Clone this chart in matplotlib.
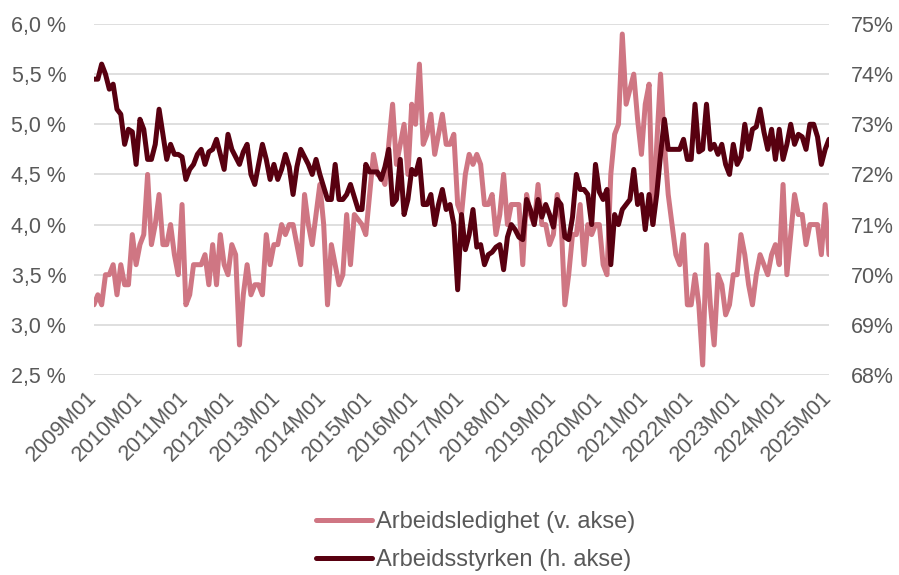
import matplotlib.pyplot as plt
import matplotlib.transforms as mtransforms
from matplotlib.ticker import FuncFormatter, FixedLocator

# monthly series 2009M01 .. 2025M01, one row per year
ledighet = [
    3.2, 3.3, 3.2, 3.5, 3.5, 3.6, 3.3, 3.6, 3.4, 3.4, 3.9, 3.6,
    3.8, 3.9, 4.5, 3.8, 4.0, 4.3, 3.8, 3.8, 4.0, 3.7, 3.5, 4.2,
    3.2, 3.3, 3.6, 3.6, 3.6, 3.7, 3.4, 3.8, 3.4, 3.9, 3.6, 3.5,
    3.8, 3.7, 2.8, 3.3, 3.6, 3.3, 3.4, 3.4, 3.3, 3.9, 3.6, 3.8,
    3.8, 4.0, 3.9, 4.0, 4.0, 3.8, 3.6, 4.3, 4.0, 3.8, 4.1, 4.4,
    4.0, 3.2, 3.8, 3.6, 3.4, 3.5, 4.1, 3.6, 4.1, 4.05, 4.0, 3.9,
    4.3, 4.7, 4.5, 4.5, 4.4, 4.8, 5.2, 4.6, 4.8, 5.0, 4.5, 5.2,
    5.0, 5.6, 4.8, 4.9, 5.1, 4.7, 4.9, 5.1, 4.8, 4.8, 4.9, 4.2,
    4.1, 4.5, 4.7, 4.6, 4.7, 4.6, 4.2, 4.2, 4.3, 3.9, 4.1, 4.5,
    4.0, 4.2, 4.2, 4.2, 3.6, 4.3, 4.1, 4.0, 4.4, 4.0, 4.0, 3.8,
    3.9, 4.3, 4.05, 3.2, 3.5, 3.9, 3.9, 4.2, 3.6, 4.0, 3.9, 4.0,
    4.0, 3.6, 3.5, 4.5, 4.9, 5.0, 5.9, 5.2, 5.35, 5.5, 5.05, 4.7,
    5.2, 5.4, 4.0, 4.8, 5.5, 4.8, 4.3, 4.0, 3.7, 3.6, 3.9, 3.2,
    3.2, 3.5, 3.2, 2.6, 3.8, 3.2, 2.8, 3.5, 3.4, 3.1, 3.2, 3.5,
    3.5, 3.9, 3.7, 3.4, 3.2, 3.5, 3.7, 3.6, 3.5, 3.7, 3.8, 3.6,
    4.4, 3.5, 3.9, 4.3, 4.1, 4.1, 3.8, 4.0, 4.0, 4.0, 3.7, 4.2,
    3.7,
]

arbeidsstyrke = [
    73.9, 73.9, 74.2, 74.0, 73.7, 73.8, 73.3, 73.2, 72.6, 72.9, 72.85, 72.2,
    73.1, 72.9, 72.3, 72.3, 72.6, 73.3, 72.8, 72.3, 72.6, 72.4, 72.4, 72.35,
    71.9, 72.1, 72.2, 72.4, 72.5, 72.2, 72.45, 72.5, 72.7, 72.4, 72.1, 72.8,
    72.5, 72.35, 72.2, 72.45, 72.6, 72.0, 71.8, 72.2, 72.6, 72.3, 71.9, 72.2,
    71.9, 72.1, 72.4, 72.15, 71.6, 72.15, 72.5, 72.35, 72.2, 72.0, 72.3, 72.0,
    71.75, 71.5, 71.5, 72.2, 71.5, 71.5, 71.6, 71.8, 71.55, 71.3, 71.3, 72.2,
    72.05, 72.05, 72.05, 71.9, 72.15, 72.5, 71.4, 71.5, 72.3, 71.2, 71.5, 72.1,
    72.0, 72.3, 71.4, 71.4, 71.6, 71.0, 71.4, 71.7, 71.3, 71.4, 71.0, 69.7,
    71.2, 70.5, 70.8, 71.3, 70.55, 70.6, 70.2, 70.4, 70.45, 70.55, 70.6, 70.1,
    70.75, 71.0, 70.9, 70.75, 70.7, 71.5, 71.3, 71.0, 71.5, 71.15, 71.4, 71.2,
    70.95, 71.5, 71.4, 70.75, 70.7, 71.15, 72.0, 71.7, 71.7, 71.6, 71.0, 72.2,
    71.65, 71.5, 71.7, 70.2, 71.2, 71.0, 71.3, 71.4, 71.5, 72.1, 71.4, 71.6,
    70.9, 71.6, 71.0, 71.6, 72.4, 73.1, 72.5, 72.5, 72.5, 72.5, 72.7, 72.3,
    72.3, 73.4, 72.45, 72.5, 73.4, 72.5, 72.6, 72.4, 72.6, 72.2, 72.0, 72.6,
    72.2, 72.35, 73.0, 72.5, 72.9, 72.95, 73.3, 72.85, 72.5, 72.9, 72.3, 72.9,
    72.3, 72.6, 73.0, 72.6, 72.8, 72.75, 72.5, 73.0, 73.0, 72.75, 72.2, 72.5,
    72.7,
]

years = list(range(2009, 2026))
tick_labels = [f"{y}M01" for y in years]

pink = "#CF7683"
dark = "#580010"
grey = "#595959"

plt.rcParams['font.family'] = ['Liberation Sans', 'DejaVu Sans']

fig = plt.figure(figsize=(8.99, 5.75), dpi=100)
ax = fig.add_axes([94 / 899, 1 - 375 / 575, 735 / 899, 351 / 575])
ax2 = ax.twinx()

x = list(range(len(ledighet)))
l1, = ax.plot(x, ledighet, color=pink, lw=3.6, solid_joinstyle='round',
              solid_capstyle='round', label="Arbeidsledighet (v. akse)")
l2, = ax2.plot(x, arbeidsstyrke, color=dark, lw=3.6, solid_joinstyle='round',
               solid_capstyle='round', label="Arbeidsstyrken (h. akse)")

ax.set_xlim(0, len(ledighet) - 1)
ax.set_ylim(2.5, 6.0)
ax2.set_ylim(68, 75)
ax.set_yticks([2.5 + 0.5 * i for i in range(8)])
ax2.set_yticks(range(68, 76))

ax.yaxis.set_major_formatter(FuncFormatter(lambda v, p: f"{v:.1f} %".replace('.', ',')))
ax2.yaxis.set_major_formatter(FuncFormatter(lambda v, p: f"{v:.0f}%"))

ax.xaxis.set_major_locator(FixedLocator([12 * i for i in range(len(years))]))
ax.set_xticklabels(tick_labels, rotation=45, ha='right', va='top',
                   rotation_mode='anchor')

ax.grid(axis='y', color='#D9D9D9', lw=1.2)
ax.set_axisbelow(True)
for a in (ax, ax2):
    for s in a.spines.values():
        s.set_visible(False)
    a.tick_params(length=0, colors=grey, labelsize=15.5)
ax.tick_params(axis='y', pad=20)
ax2.tick_params(axis='y', pad=16)
ax.tick_params(axis='x', pad=9)

# nudge the rotated month labels a bit to the left (after tick_params,
# which resets the label transforms)
shift = mtransforms.ScaledTranslation(-0.075, 0, fig.dpi_scale_trans)
for t in ax.xaxis.get_major_ticks():
    t.label1.set_transform(t.label1.get_transform() + shift)

fig.legend(handles=[l1, l2], loc='lower center', bbox_to_anchor=(0.529, -0.03),
           ncol=1, frameon=False, fontsize=17, labelcolor=grey,
           handlelength=2.35, handletextpad=0.17, labelspacing=0.66)

fig.savefig("out.png", dpi=100)
